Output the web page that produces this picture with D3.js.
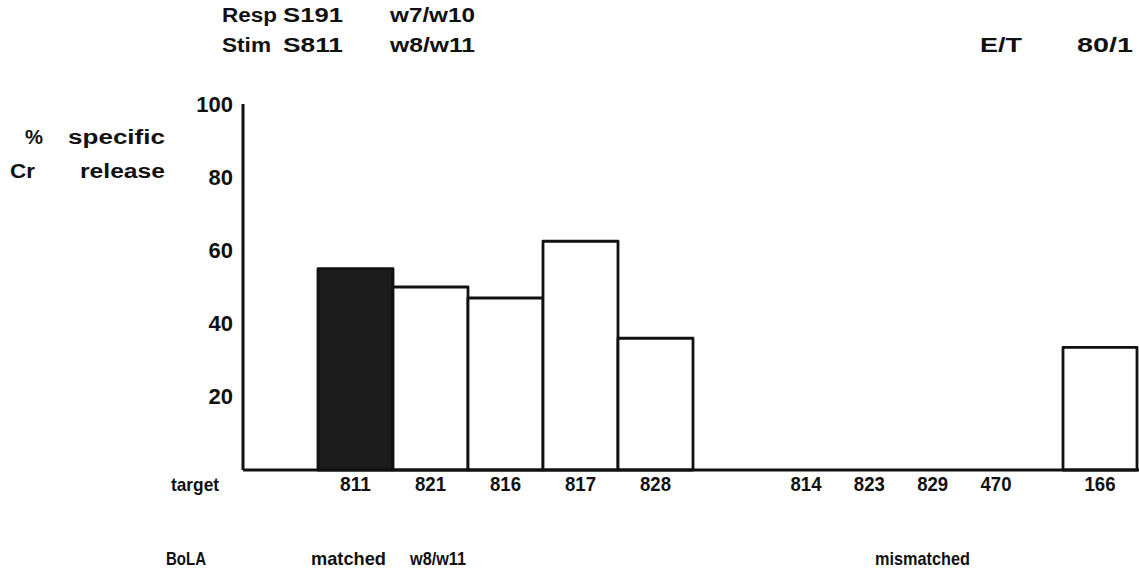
<!DOCTYPE html>
<html>
<head>
<meta charset="utf-8">
<script src="https://cdn.jsdelivr.net/npm/d3@7"></script>
<style>
  html, body { margin: 0; padding: 0; background: #fff; }
  svg text { font-family: "Liberation Sans", Arial, Helvetica, sans-serif; font-weight: bold; fill: #111; }
</style>
</head>
<body>
<svg id="chart" width="1139" height="584"></svg>
<script>
// ---- data ----
const matchedTargets = ["811", "821", "816", "817", "828"];
const matchedValues = [55, 50, 47, 62.5, 36];
const mismatchedTargets = ["814", "823", "829", "470", "166"];
const mismatchedValues = [0, 0, 0, 0, 33.5];
const stimulatorTarget = "811";
const yTicks = [20, 40, 60, 80, 100];

// ---- layout ----
const W = 1139, H = 584;
const svg = d3.select("#chart");
const axisX = 243;
const labelY = 491;

const y = d3.scaleLinear().domain([0, 100]).range([470, 104]);
const xM = d3.scaleBand().domain(matchedTargets).range([318, 693]).paddingInner(0);
// mismatched targets without lysis sit on an evenly spaced row; the lysed one (166) is drawn at the far right
const zeroTargets = mismatchedTargets.filter((t, i) => mismatchedValues[i] === 0);
const lysedTargets = mismatchedTargets.filter((t, i) => mismatchedValues[i] > 0);
const xZ = d3.scalePoint().domain(zeroTargets).range([806, 996]);
const xL = d3.scaleBand().domain(lysedTargets).range([1063, 1137]).paddingInner(0);

const matched = matchedTargets.map((t, i) => ({ t, v: matchedValues[i], x: xM(t), w: xM.bandwidth() }));
const mism = mismatchedTargets.map((t, i) => {
  const v = mismatchedValues[i];
  return v > 0 ? { t, v, x: xL(t), w: xL.bandwidth() } : { t, v, x: xZ(t), w: 0 };
});
const all = matched.concat(mism);

// bars
svg.append("g").selectAll("rect").data(all.filter(d => d.v > 0)).join("rect")
  .attr("x", d => d.x)
  .attr("y", d => y(d.v))
  .attr("width", d => d.w)
  .attr("height", d => y(0) - y(d.v))
  .attr("fill", d => d.t === stimulatorTarget ? "#1c1c1c" : "#fff")
  .attr("stroke", "#111")
  .attr("stroke-width", 2.8)
  .attr("stroke-linejoin", "round");

// y axis
const yAxis = d3.axisLeft(y).tickValues(yTicks).tickSize(0).tickPadding(10).tickFormat(d3.format("d"));
const gy = svg.append("g").attr("transform", `translate(${axisX},0)`).call(yAxis);
gy.select(".domain").attr("stroke", "#111").attr("stroke-width", 3).attr("d", `M0,${y(100)}V${y(0)}`);
gy.selectAll(".tick text")
  .attr("font-size", 22).attr("letter-spacing", 0)
  .attr("fill", "#111")
  .style("font-family", "'Liberation Sans', Arial, sans-serif").style("font-weight", "bold");

// x baseline
svg.append("line")
  .attr("x1", axisX).attr("x2", W)
  .attr("y1", y(0)).attr("y2", y(0))
  .attr("stroke", "#111").attr("stroke-width", 3);

// x labels
svg.append("g").selectAll("text").data(all).join("text")
  .attr("x", d => d.x + d.w / 2)
  .attr("y", labelY)
  .attr("text-anchor", "middle")
  .attr("font-size", 20)
  .attr("textLength", 31)
  .attr("lengthAdjust", "spacingAndGlyphs")
  .text(d => d.t);

// other text (x start, target width, baseline)
const texts = [
  { s: "Resp", x: 222, w: 55, y: 22, fs: 20 },
  { s: "S191", x: 283, w: 60, y: 22, fs: 20 },
  { s: "w7/w10", x: 390, w: 85, y: 22, fs: 20 },
  { s: "Stim", x: 222, w: 49, y: 52, fs: 20 },
  { s: "S811", x: 283, w: 60, y: 52, fs: 20 },
  { s: "w8/w11", x: 390, w: 85, y: 52, fs: 20 },
  { s: "E/T", x: 980, w: 42, y: 52, fs: 20 },
  { s: "80/1", x: 1077, w: 56, y: 52, fs: 20 },
  { s: "%", x: 25, w: 18, y: 144, fs: 20 },
  { s: "specific", x: 68, w: 97, y: 144, fs: 20 },
  { s: "Cr", x: 10, w: 25, y: 178, fs: 20 },
  { s: "release", x: 80, w: 85, y: 178, fs: 20 },
  { s: "target", x: 171, w: 48, y: labelY, fs: 19 },
  { s: "BoLA", x: 166, w: 40, y: 565, fs: 19 },
  { s: "matched", x: 311, w: 75, y: 565, fs: 19 },
  { s: "w8/w11", x: 410, w: 56, y: 565, fs: 19 },
  { s: "mismatched", x: 875, w: 95, y: 565, fs: 19 }
];
svg.append("g").selectAll("text").data(texts).join("text")
  .attr("x", d => d.x).attr("y", d => d.y)
  .attr("font-size", d => d.fs)
  .attr("textLength", d => d.w)
  .attr("lengthAdjust", "spacingAndGlyphs")
  .text(d => d.s);
</script>
</body>
</html>
